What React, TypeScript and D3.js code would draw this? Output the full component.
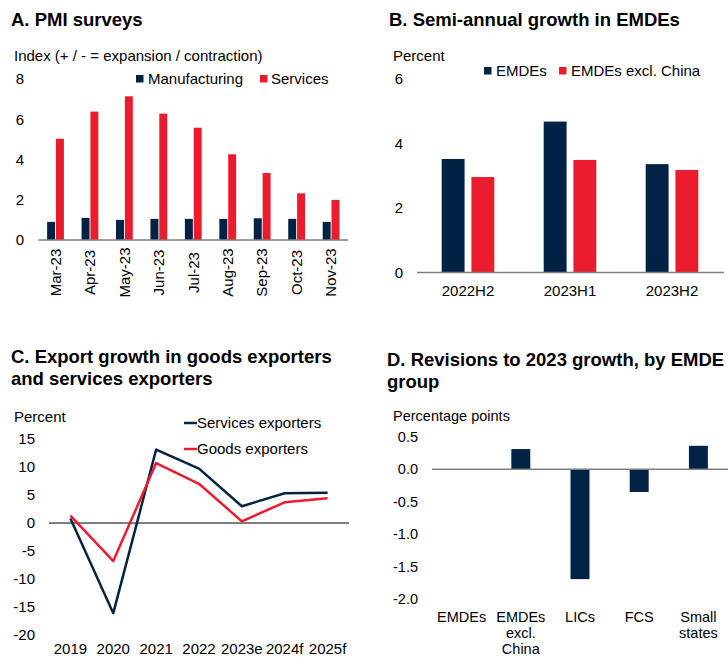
import React, { useEffect, useRef } from 'react';
import * as d3 from 'd3';

// A. PMI surveys
const pmiMonths = ['Mar-23', 'Apr-23', 'May-23', 'Jun-23', 'Jul-23', 'Aug-23', 'Sep-23', 'Oct-23', 'Nov-23'];
const pmiManufacturing = [0.9, 1.1, 1.0, 1.05, 1.05, 1.05, 1.08, 1.05, 0.9];
const pmiServices = [5.03, 6.38, 7.14, 6.28, 5.58, 4.26, 3.33, 2.32, 1.99];
const pmiTicks = [0, 2, 4, 6, 8];

// B. Semi-annual growth
const halfYears = ['2022H2', '2023H1', '2023H2'];
const growthEmdes = [3.52, 4.68, 3.36];
const growthExChina = [2.96, 3.49, 3.18];
const growthTicks = [0, 2, 4, 6];

// C. Export growth
const exportYears = ['2019', '2020', '2021', '2022', '2023e', '2024f', '2025f'];
const servicesExporters = [0.8, -16.1, 13.1, 9.7, 3.0, 5.3, 5.4];
const goodsExporters = [1.3, -6.8, 10.7, 7.0, 0.3, 3.7, 4.4];
const exportTicks = [15, 10, 5, 0, -5, -10, -15, -20];

// D. Revisions to 2023 growth
const emdeGroups = ['EMDEs', 'EMDEs excl. China', 'LICs', 'FCS', 'Small states'];
const emdeGroupLines = [['EMDEs'], ['EMDEs', 'excl.', 'China'], ['LICs'], ['FCS'], ['Small', 'states']];
const revisions = [0.0, 0.31, -1.69, -0.35, 0.36];
const revisionTicks = [0.5, 0, -0.5, -1, -1.5, -2];

const NAVY = '#002345';
const RED = '#eb1c2d';
const AXIS = '#808080';
const FONT = '"Liberation Sans", Arial, sans-serif';

type Sel = d3.Selection<SVGSVGElement, unknown, null, undefined>;

function addText(svg: Sel, x: number, y: number, txt: string, size: number, opts: any = {}) {
    return svg.append('text')
        .attr('x', x)
        .attr('y', y)
        .attr('text-anchor', opts.anchor || 'start')
        .attr('dy', opts.dy || null)
        .style('font-size', size + 'px')
        .style('font-weight', opts.bold ? 'bold' : 'normal')
        .style('fill', '#000')
        .text(txt);
}

function drawPmi(svg: Sel) {
    const x = d3.scaleBand<string>().domain(pmiMonths).range([38.3, 348.3]);
    const sub = d3.scaleBand<string>().domain(['m', 's']).range([-8.4, 8.4]).paddingInner(0.1);
    const y = d3.scaleLinear().domain([0, 8]).range([240, 79]);

    addText(svg, 11, 26, 'A. PMI surveys', 18.5, { bold: true });
    addText(svg, 14, 61, 'Index (+ / - = expansion / contraction)', 15);

    pmiTicks.forEach(t => addText(svg, 24, y(t), String(t), 15, { anchor: 'end', dy: '0.35em' }));

    const series = [
        { key: 'm', values: pmiManufacturing, color: NAVY },
        { key: 's', values: pmiServices, color: RED },
    ];
    series.forEach(s => {
        svg.append('g').selectAll('rect')
            .data(s.values)
            .enter()
            .append('rect')
            .attr('x', (d, i) => x(pmiMonths[i])! + x.bandwidth() / 2 + sub(s.key)!)
            .attr('y', d => y(d))
            .attr('width', sub.bandwidth())
            .attr('height', d => y(0) - y(d))
            .style('fill', s.color);
    });

    svg.append('line')
        .attr('x1', 38.3).attr('x2', 348.3)
        .attr('y1', y(0)).attr('y2', y(0))
        .style('stroke', AXIS).style('stroke-width', 1.5);

    pmiMonths.forEach(m => {
        svg.append('text')
            .attr('transform', `translate(${x(m)! + x.bandwidth() / 2},272.5) rotate(-90)`)
            .attr('text-anchor', 'middle')
            .attr('dy', '0.35em')
            .style('font-size', '15px')
            .text(m);
    });

    // legend
    svg.append('rect').attr('x', 136).attr('y', 75).attr('width', 7.5).attr('height', 7.5).style('fill', NAVY);
    addText(svg, 148, 84, 'Manufacturing', 15);
    svg.append('rect').attr('x', 260).attr('y', 75).attr('width', 7.5).attr('height', 7.5).style('fill', RED);
    addText(svg, 271, 84, 'Services', 15);
}

function drawGrowth(svg: Sel) {
    const x = d3.scaleBand<string>().domain(halfYears).range([417, 723]);
    const sub = d3.scaleBand<string>().domain(['e', 'x']).range([-26.3, 26.3]).paddingInner(0.23);
    const y = d3.scaleLinear().domain([0, 6]).range([272.5, 79]);

    addText(svg, 389, 26, 'B. Semi-annual growth in EMDEs', 18.5, { bold: true });
    addText(svg, 393, 61, 'Percent', 15);

    growthTicks.forEach(t => addText(svg, 403, y(t), String(t), 15, { anchor: 'end', dy: '0.35em' }));

    const series = [
        { key: 'e', values: growthEmdes, color: NAVY },
        { key: 'x', values: growthExChina, color: RED },
    ];
    series.forEach(s => {
        svg.append('g').selectAll('rect')
            .data(s.values)
            .enter()
            .append('rect')
            .attr('x', (d, i) => x(halfYears[i])! + x.bandwidth() / 2 + sub(s.key)!)
            .attr('y', d => y(d))
            .attr('width', sub.bandwidth())
            .attr('height', d => y(0) - y(d))
            .style('fill', s.color);
    });

    svg.append('line')
        .attr('x1', 417).attr('x2', 724)
        .attr('y1', y(0)).attr('y2', y(0))
        .style('stroke', AXIS).style('stroke-width', 1.5);

    halfYears.forEach(h => addText(svg, x(h)! + x.bandwidth() / 2, 296, h, 15, { anchor: 'middle' }));

    svg.append('rect').attr('x', 484).attr('y', 67).attr('width', 7.5).attr('height', 7.5).style('fill', NAVY);
    addText(svg, 496, 75.5, 'EMDEs', 15);
    svg.append('rect').attr('x', 559).attr('y', 67).attr('width', 7.5).attr('height', 7.5).style('fill', RED);
    addText(svg, 571, 75.5, 'EMDEs excl. China', 15);
}

function drawExports(svg: Sel) {
    const x = d3.scaleBand<string>().domain(exportYears).range([49, 349]);
    const y = d3.scaleLinear().domain([-20, 15]).range([635, 439]);

    addText(svg, 11, 363, 'C. Export growth in goods exporters', 18.5, { bold: true });
    addText(svg, 11, 385, 'and services exporters', 18.5, { bold: true });
    addText(svg, 14, 422, 'Percent', 15);

    exportTicks.forEach(t => addText(svg, 35, y(t), String(t), 15, { anchor: 'end', dy: '0.35em' }));

    svg.append('line')
        .attr('x1', 49).attr('x2', 349)
        .attr('y1', y(0)).attr('y2', y(0))
        .style('stroke', '#000').style('stroke-width', 1);

    const line = d3.line<number>()
        .x((d, i) => x(exportYears[i])! + x.bandwidth() / 2)
        .y(d => y(d));

    [{ values: servicesExporters, color: NAVY }, { values: goodsExporters, color: RED }].forEach(s => {
        svg.append('path')
            .datum(s.values)
            .attr('d', line)
            .style('fill', 'none')
            .style('stroke', s.color)
            .style('stroke-width', 2.5)
            .style('stroke-linejoin', 'round');
    });

    exportYears.forEach(yr => addText(svg, x(yr)! + x.bandwidth() / 2, 654, yr, 15, { anchor: 'middle' }));

    svg.append('line').attr('x1', 184).attr('x2', 197).attr('y1', 423).attr('y2', 423)
        .style('stroke', NAVY).style('stroke-width', 2.5);
    addText(svg, 197, 428, 'Services exporters', 15);
    svg.append('line').attr('x1', 184).attr('x2', 197).attr('y1', 449).attr('y2', 449)
        .style('stroke', RED).style('stroke-width', 2.5);
    addText(svg, 197, 454, 'Goods exporters', 15);
}

function drawRevisions(svg: Sel) {
    const x = d3.scaleBand<string>().domain(emdeGroups).range([432, 728]).paddingInner(0.68).paddingOuter(0.34);
    const y = d3.scaleLinear().domain([-2, 0.5]).range([599.3, 436.7]);

    addText(svg, 387, 366, 'D. Revisions to 2023 growth, by EMDE', 18.5, { bold: true });
    addText(svg, 387, 388, 'group', 18.5, { bold: true });
    addText(svg, 393, 421, 'Percentage points', 14.5);

    revisionTicks.forEach(t => addText(svg, 418, y(t), t.toFixed(1), 14.5, { anchor: 'end', dy: '0.35em' }));

    svg.append('g').selectAll('rect')
        .data(revisions)
        .enter()
        .append('rect')
        .attr('x', (d, i) => x(emdeGroups[i])!)
        .attr('y', d => y(Math.max(0, d)))
        .attr('width', x.bandwidth())
        .attr('height', d => Math.abs(y(d) - y(0)))
        .style('fill', NAVY);

    svg.append('line')
        .attr('x1', 432).attr('x2', 728)
        .attr('y1', y(0)).attr('y2', y(0))
        .style('stroke', AXIS).style('stroke-width', 1.5);

    emdeGroups.forEach((g, i) => {
        const cx = x(g)! + x.bandwidth() / 2;
        emdeGroupLines[i].forEach((ln, j) => addText(svg, cx, 622 + j * 16, ln, 14.5, { anchor: 'middle' }));
    });
}

export default function App() {
    const ref = useRef<SVGSVGElement>(null);

    useEffect(() => {
        const svg = d3.select(ref.current!) as Sel;
        svg.selectAll('*').remove();
        svg.style('font-family', FONT);
        drawPmi(svg);
        drawGrowth(svg);
        drawExports(svg);
        drawRevisions(svg);
    }, []);

    return (
        <svg ref={ref} width={728} height={658}
             style={{ position: 'absolute', left: 0, top: 0, background: '#fff' }} />
    );
}
